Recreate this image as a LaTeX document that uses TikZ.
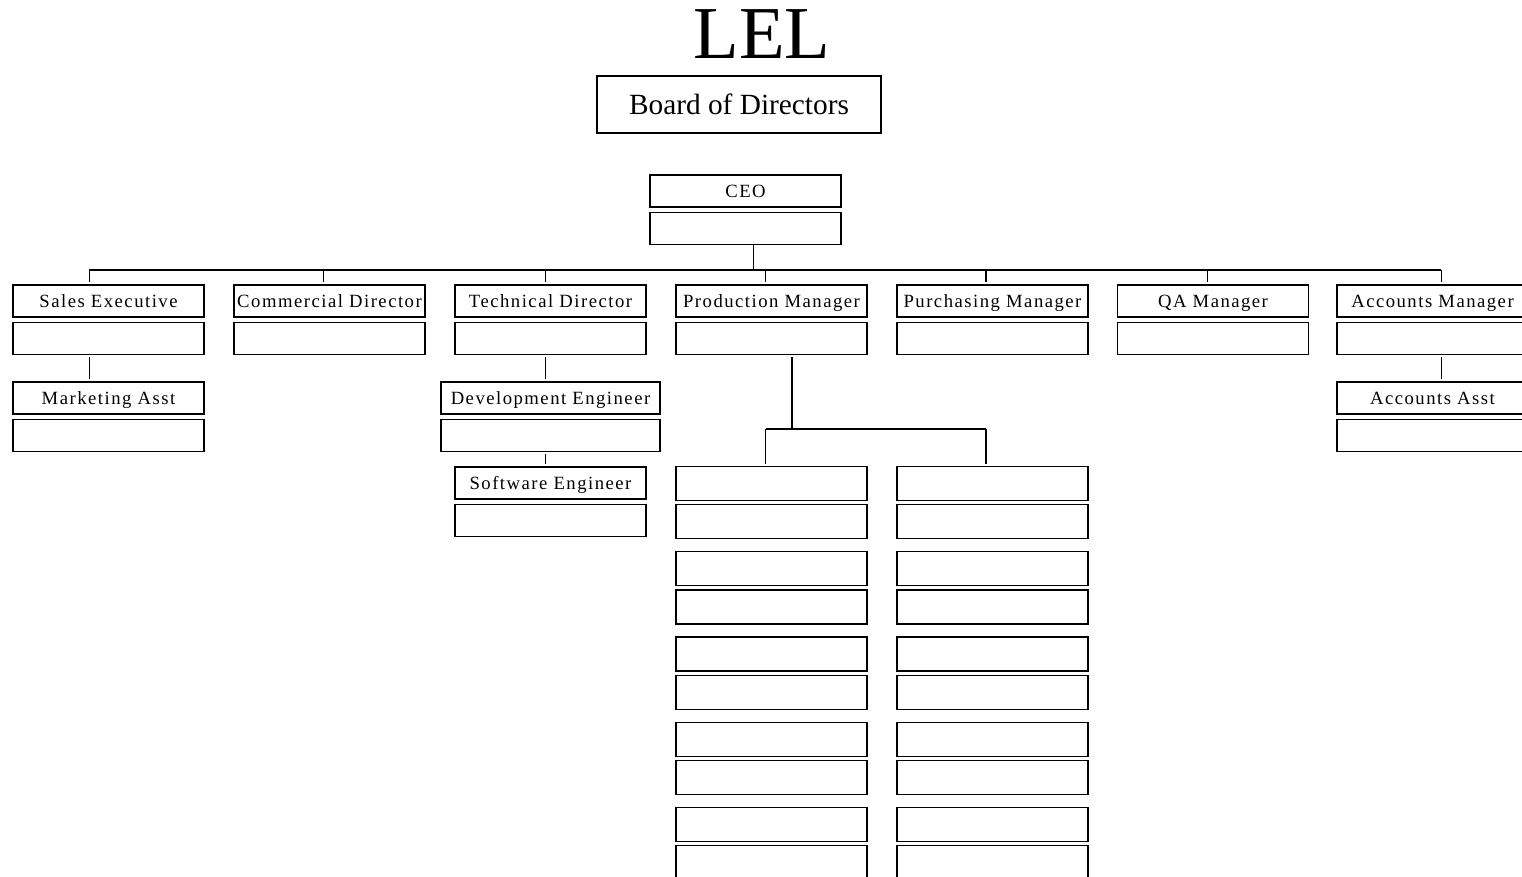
\documentclass[tikz,border=0pt]{standalone}
\usepackage{fontspec}
\setmainfont{Liberation Serif}
\newfontfamily\rolefont[LetterSpace=8]{Liberation Serif}
\usetikzlibrary{positioning,calc}

\tikzset{
  role/.style={shape=rectangle,draw=black,line width=0.9pt,minimum width=143.25pt,
    minimum height=24pt,inner sep=0pt,text height=12pt,text depth=1.7pt,
    font=\rolefont\fontsize{14}{16}\selectfont},
  slot/.style={role,minimum height=25.5pt},
  link/.style={draw=black,line width=0.9pt}
}

\begin{document}
\begin{tikzpicture}[x=0.75pt,y=-0.75pt]
  \useasboundingbox (0,0) rectangle (1522,877);
  % heading
  \node[font=\fontsize{56}{60}\selectfont,anchor=base,inner sep=0pt] (title) at (762,59) {LEL};
  \node[shape=rectangle,draw=black,line width=0.9pt,minimum width=213pt,minimum height=42.75pt,
    font=\fontsize{22}{24}\selectfont] (board) at (739,104.5) {Board of Directors};
  % CEO
  \node[role] (ceo) at (745.5,191) {CEO};
  \node[role,below=3pt of ceo] (ceob) {};
  % second level
  \node[role] (se) at (108.5,301) {Sales Executive};
  \node[role,below=3pt of se] (seb) {};
  \node[role] (cd) at (329.5,301) {Commercial Director};
  \node[role,below=3pt of cd] (cdb) {};
  \node[role] (td) at (550.5,301) {Technical Director};
  \node[role,below=3pt of td] (tdb) {};
  \node[role] (pm) at (771.5,301) {Production Manager};
  \node[role,below=3pt of pm] (pmb) {};
  \node[role] (pu) at (992.5,301) {Purchasing Manager};
  \node[role,below=3pt of pu] (pub) {};
  \node[role] (qa) at (1213,301) {QA Manager};
  \node[role,below=3pt of qa] (qab) {};
  \node[role] (am) at (1432.5,301) {Accounts Manager};
  \node[role,below=3pt of am] (amb) {};
  % third level
  \node[role] (ma) at (108.5,398) {Marketing Asst};
  \node[role,below=3pt of ma] (mab) {};
  \node[role,minimum width=164.25pt] (de) at (550.5,398) {Development Engineer};
  \node[role,minimum width=164.25pt,below=3pt of de] (deb) {};
  \node[role] (sw) at (550.5,483) {Software Engineer};
  \node[role,below=3pt of sw] (swb) {};
  \node[role] (aa) at (1432.5,398) {Accounts Asst};
  \node[role,below=3pt of aa] (aab) {};
  % empty slots under production
  \foreach \c/\x in {0/771.5,1/992.5}
    \foreach \r in {0,...,4} {
      \node[slot] (g\c\r) at (\x,{483.5+85.25*\r}) {};
      \node[slot,below=2.25pt of g\c\r] (g\c\r b) {};
    }
  % connectors
  \coordinate (bus) at (0,270);
  \coordinate (ceo-out) at ($(ceob.south west)!0.54!(ceob.south east)$);
  \path [link](ceo-out) -- (ceo-out |- bus);
  \foreach \n/\f in {se/0.40,cd/0.47,td/0.475,pm/0.47,pu/0.466,qa/0.47,am/0.545} {
    \coordinate (\n-in) at ($(\n.north west)!\f!(\n.north east)$);
    \path [link,shorten >=1.5pt](\n-in |- bus) -- (\n-in);
  }
  \path [link](se-in |- bus) -- (am-in |- bus);
  \path [link,shorten <=2pt,shorten >=2pt](se-in |- seb.south) -- (se-in |- ma.north);
  \path [link,shorten <=2pt,shorten >=2pt](td-in |- tdb.south) -- (td-in |- de.north);
  \path [link,shorten <=2pt,shorten >=2pt](td-in |- deb.south) -- (td-in |- sw.north);
  \path [link,shorten <=2pt,shorten >=2pt](am-in |- amb.south) -- (am-in |- aa.north);
  % production branch
  \coordinate (pbus) at (0,429);
  \coordinate (pm-out) at ($(pmb.south west)!0.607!(pmb.south east)$);
  \coordinate (g0-in) at ($(g00.north west)!0.47!(g00.north east)$);
  \coordinate (g1-in) at ($(g10.north west)!0.466!(g10.north east)$);
  \path [link,shorten <=2pt](pm-out) -- (pm-out |- pbus);
  \path [link](g0-in |- pbus) -- (g1-in |- pbus);
  \path [link,shorten >=1.5pt](g0-in |- pbus) -- (g0-in);
  \path [link,shorten >=1.5pt](g1-in |- pbus) -- (g1-in);
\end{tikzpicture}
\end{document}
